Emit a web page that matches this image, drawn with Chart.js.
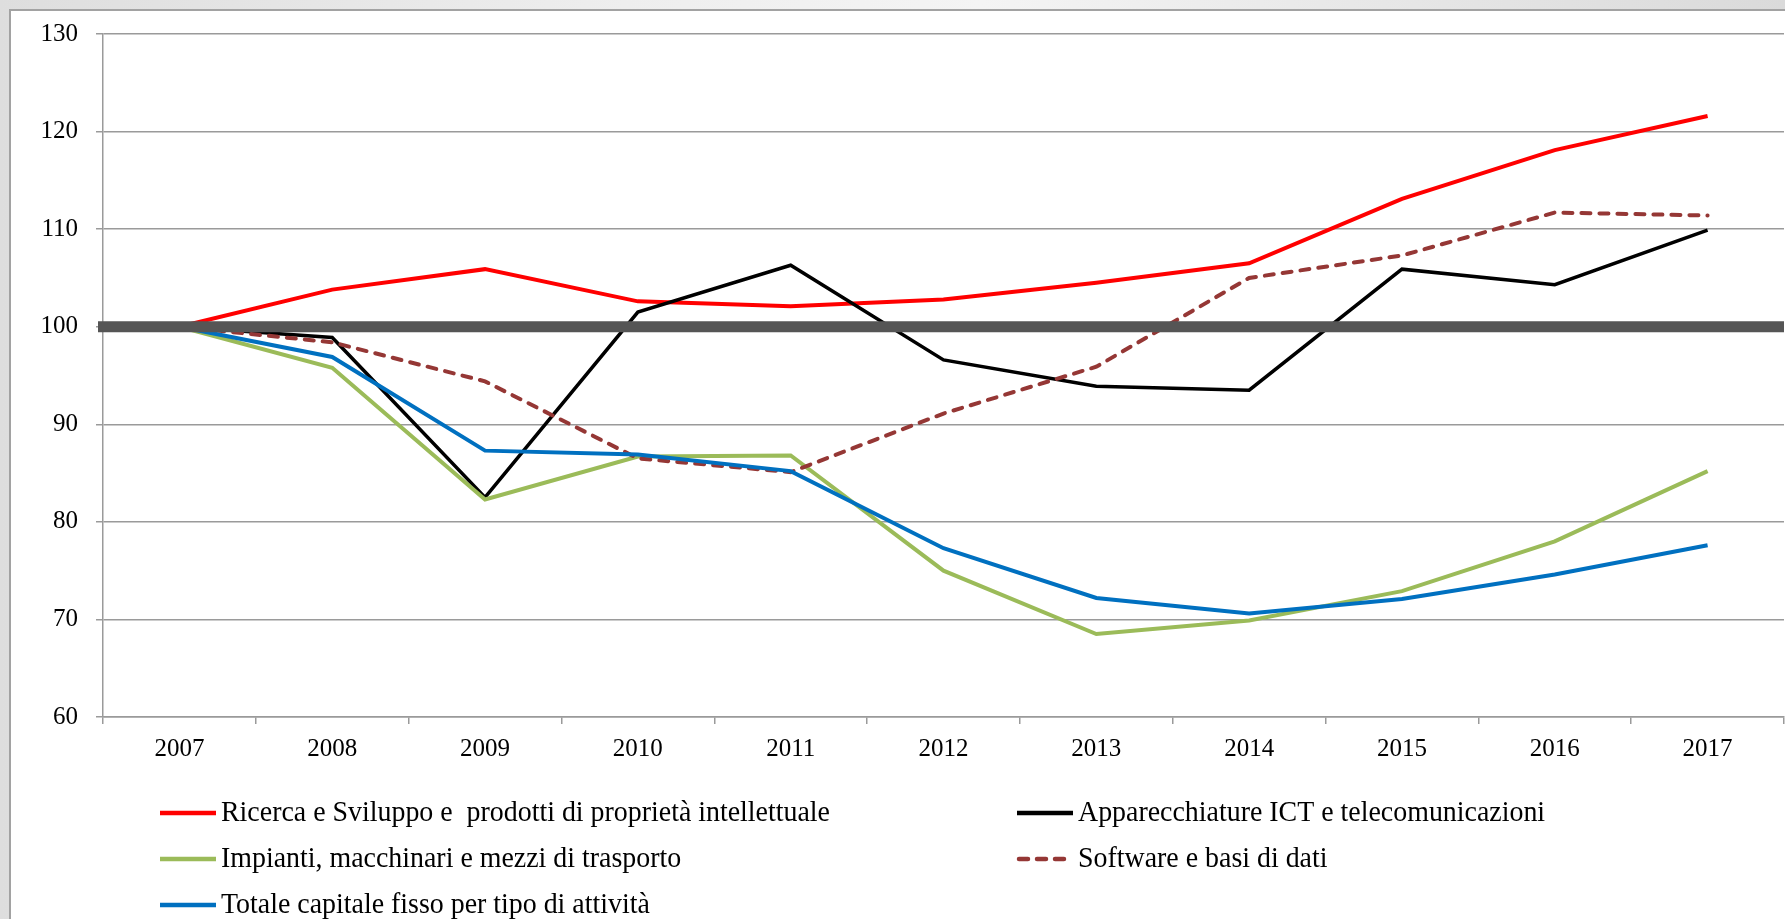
<!DOCTYPE html>
<html>
<head>
<meta charset="utf-8">
<script src="https://cdn.jsdelivr.net/npm/chart.js@4.4.1/dist/chart.umd.min.js"></script>
<style>
  html, body { margin:0; padding:0; width:1785px; height:919px; overflow:hidden;
    background: linear-gradient(to right, #dedede 0%, #eeeeee 35%, #f4f4f4 55%, #dadada 100%); }
  #frame { position:absolute; left:9px; top:9px; width:1800px; height:1000px; background:#fff;
    border:2px solid #a2a2a2; box-sizing:border-box; }
  #c { position:absolute; left:0; top:0; }
</style>
</head>
<body>
<div id="frame"></div>
<canvas id="c" width="1785" height="919"></canvas>
<script>
// ---- data ----
const years = ['2007','2008','2009','2010','2011','2012','2013','2014','2015','2016','2017'];
const ricercaSviluppo = [100, 103.8, 105.9, 102.6, 102.1, 102.8, 104.5, 106.5, 113.1, 118.1, 121.6];
const apparecchiatureICT = [100, 98.9, 82.5, 101.5, 106.3, 96.6, 93.9, 93.5, 105.9, 104.3, 109.9];
const impianti = [100, 95.8, 82.3, 86.7, 86.8, 75.0, 68.5, 69.9, 72.9, 78.0, 85.2];
const software = [100, 98.4, 94.4, 86.5, 85.1, 91.1, 95.9, 105.0, 107.3, 111.7, 111.4];
const totale = [100, 96.9, 87.3, 86.9, 85.2, 77.3, 72.2, 70.6, 72.1, 74.6, 77.6];
const seriesLabels = [
  'Ricerca e Sviluppo e  prodotti di proprietà intellettuale',
  'Apparecchiature ICT e telecomunicazioni',
  'Impianti, macchinari e mezzi di trasporto',
  'Software e basi di dati',
  'Totale capitale fisso per tipo di attività'
];
const yMin = 60, yMax = 130, yStep = 10;
const baseLine = 100;

const FONT = 'Liberation Serif, "Times New Roman", serif';

const refLinePlugin = {
  id: 'refLine',
  afterDatasetsDraw(chart) {
    const ctx = chart.ctx;
    const y = chart.scales.y.getPixelForValue(baseLine);
    const { left, right } = chart.chartArea;
    ctx.save();
    ctx.strokeStyle = '#555555';
    ctx.lineWidth = 11;
    ctx.beginPath();
    ctx.moveTo(left - 5, y);
    ctx.lineTo(right, y);
    ctx.stroke();
    ctx.restore();
  }
};

const legendPlugin = {
  id: 'gridLegend',
  afterDraw(chart) {
    const ctx = chart.ctx;
    const colX = [160, 1017];
    const rowY = [813, 859, 905];
    const squeeze = 0.93;
    ctx.save();
    chart.data.datasets.forEach((ds, i) => {
      const x = colX[i % 2];
      const y = rowY[Math.floor(i / 2)];
      ctx.strokeStyle = ds.borderColor;
      ctx.lineWidth = 4.5;
      ctx.lineCap = ds.borderDash ? 'round' : 'butt';
      ctx.setLineDash(ds.borderDash ? [9, 9] : []);
      ctx.beginPath();
      ctx.moveTo(x + (ds.borderDash ? 2 : 0), y);
      ctx.lineTo(x + 56, y);
      ctx.stroke();
      ctx.setLineDash([]);
      ctx.fillStyle = '#000';
      ctx.font = '30px ' + FONT;
      ctx.textBaseline = 'middle';
      ctx.textAlign = 'left';
      ctx.save();
      ctx.translate(x + 61, y);
      ctx.scale(squeeze, 1);
      ctx.fillText(ds.label, 0, 0);
      ctx.restore();
    });
    ctx.restore();
  }
};

new Chart(document.getElementById('c'), {
  type: 'line',
  data: {
    labels: years,
    datasets: [
      { label: seriesLabels[0], data: ricercaSviluppo, borderColor: '#ff0000', borderWidth: 4, order: 5 },
      { label: seriesLabels[1], data: apparecchiatureICT, borderColor: '#000000', borderWidth: 3.5, order: 4 },
      { label: seriesLabels[2], data: impianti, borderColor: '#9bbb59', borderWidth: 4, order: 3 },
      { label: seriesLabels[3], data: software, borderColor: '#953735', borderWidth: 4, borderDash: [9, 9], borderCapStyle: 'round', order: 2 },
      { label: seriesLabels[4], data: totale, borderColor: '#0070c0', borderWidth: 4, order: 1 }
    ]
  },
  options: {
    responsive: false,
    animation: false,
    layout: { padding: { left: 0, top: 34, right: 1, bottom: 142 } },
    elements: { point: { radius: 0 }, line: { tension: 0, fill: false } },
    plugins: { legend: { display: false }, tooltip: { enabled: false } },
    scales: {
      x: {
        offset: true,
        grid: { offset: true, drawOnChartArea: false, drawTicks: true, tickLength: 7, color: '#9a9a9a', lineWidth: 1.5 },
        border: { color: '#9a9a9a', width: 1.5 },
        ticks: { color: '#000', font: { family: FONT, size: 25 }, padding: 10, maxRotation: 0, autoSkip: false },
        afterFit: s => { s.height = 60; }
      },
      y: {
        min: yMin, max: yMax,
        ticks: { stepSize: yStep, color: '#000', font: { family: FONT, size: 25 }, padding: 18 },
        grid: { color: '#9a9a9a', lineWidth: 1.5, tickLength: 7 },
        border: { color: '#9a9a9a', width: 1.5 },
        afterFit: s => { s.width = 103; }
      }
    }
  },
  plugins: [refLinePlugin, legendPlugin]
});
</script>
</body>
</html>
